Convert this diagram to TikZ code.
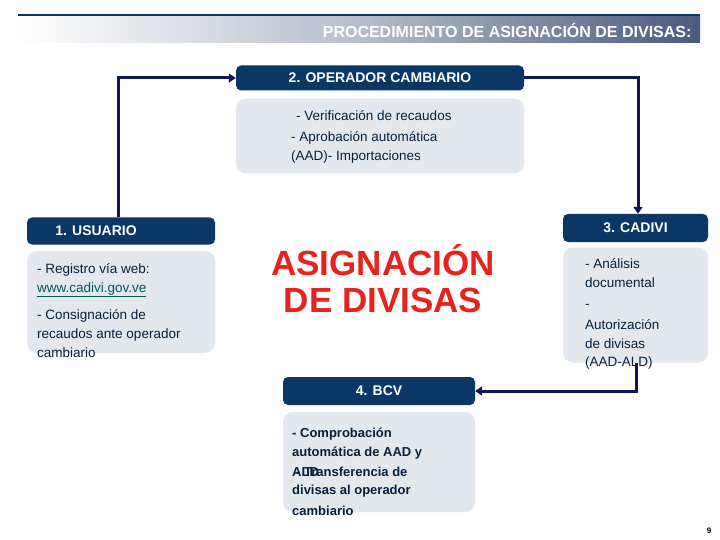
\documentclass[tikz,border=0pt]{standalone}
\usepackage{fontspec}
\setmainfont{Liberation Sans}
\usetikzlibrary{arrows.meta}
\definecolor{navy}{HTML}{0B3766}
\definecolor{boxbg}{HTML}{E3E7EE}
\definecolor{lineblue}{HTML}{14145A}
\definecolor{slate}{HTML}{4A5B7C}
\definecolor{redtxt}{HTML}{E8221C}
\tikzset{
 hdr/.style={draw=none,fill=navy,rounded corners=5pt,text=white,font=\bfseries\fontsize{14}{16}\selectfont},
 body/.style={draw=none,fill=boxbg,rounded corners=10pt},
 txt/.style={anchor=west,inner sep=0pt,text=navy!60!black,font=\fontsize{13.5}{15}\selectfont},
 btxt/.style={txt,font=\bfseries\fontsize{13}{15}\selectfont},
 conn/.style={draw=lineblue,line width=3pt,-{Triangle[length=7pt,width=9pt]}}
}
\begin{document}
\begin{tikzpicture}[x=1pt,y=-1pt]
\useasboundingbox (0,0) rectangle (720,540);
\fill[white] (0,0) rectangle (720,540);
% header
\shade[left color=white,right color=slate,middle color=white!60!slate] (18,17) rectangle (700,43);
\draw[navy,line width=2pt] (18,15) -- (700,15) coordinate (topline);
\node[anchor=east,text=white,font=\bfseries\fontsize{16}{18}\selectfont] (title) at (695,30) {PROCEDIMIENTO DE ASIGNACIÓN DE DIVISAS:};
% node 2
\node[hdr,minimum width=288,minimum height=25] (h2) at (380,78) {2. OPERADOR CAMBIARIO};
\node[body,minimum width=288,minimum height=75] (b2) at (380,136) {};
\node[txt] (t2a) at (296,116) {- Verificación de recaudos};
\node[txt] (t2b) at (291,138) {- Aprobación automática};
\node[txt] (t2c) at (291,157) {(AAD)- Importaciones};
% node 1
\node[hdr,minimum width=188,minimum height=27] (h1) at (121,231) {\hspace*{-50pt}1. USUARIO};
\node[body,minimum width=188,minimum height=102] (b1) at (121,302) {};
\node[txt] (t1a) at (37,270) {- Registro vía web:};
\node[txt,text=teal!70!black] (t1b) at (37,290) {\underline{www.cadivi.gov.ve}};
\node[txt] (t1c) at (37,316) {- Consignación de};
\node[txt] (t1d) at (37,335) {recaudos ante operador};
\node[txt] (t1e) at (37,353) {cambiario};
% center
\node[text=redtxt,font=\bfseries\fontsize{35}{37}\selectfont,align=center] (center) at (383,279) {ASIGNACIÓN\\DE DIVISAS};
% node 3
\node[hdr,minimum width=145,minimum height=28] (h3) at (635.5,228) {3. CADIVI};
\node[body,minimum width=145,minimum height=115] (b3) at (635.5,305) {};
\node[txt] (t3a) at (585,264) {- Análisis};
\node[txt] (t3b) at (585,283) {documental};
\node[txt] (t3c) at (585,306) {-};
\node[txt] (t3d) at (585,325) {Autorización};
\node[txt] (t3e) at (585,344) {de divisas};
\node[txt] (t3f) at (585,363) {(AAD-ALD)};
% node 4
\node[hdr,minimum width=192,minimum height=28] (h4) at (379,391) {4. BCV};
\node[body,minimum width=192,minimum height=100] (b4) at (379,462) {};
\node[btxt] (t4a) at (292,434) {- Comprobación};
\node[btxt] (t4b) at (292,453) {automática de AAD y};
\node[btxt] (t4c) at (292,472) {ALD};
\node[btxt] (t4d) at (296,472) {- Transferencia de};
\node[btxt] (t4e) at (292,491) {divisas al operador};
\node[btxt] (t4f) at (292,511) {cambiario};
% connectors
\draw[conn] (h1.north -| 118,0) |- (h2.west);
\draw[conn] (h2.east) -| (h3.north -| 638,0);
\draw[conn] (b3.south -| 636,0) |- (h4.east);
\node[font=\bfseries\fontsize{8}{9}\selectfont] (pnum) at (709,531) {9};
\end{tikzpicture}
\end{document}
